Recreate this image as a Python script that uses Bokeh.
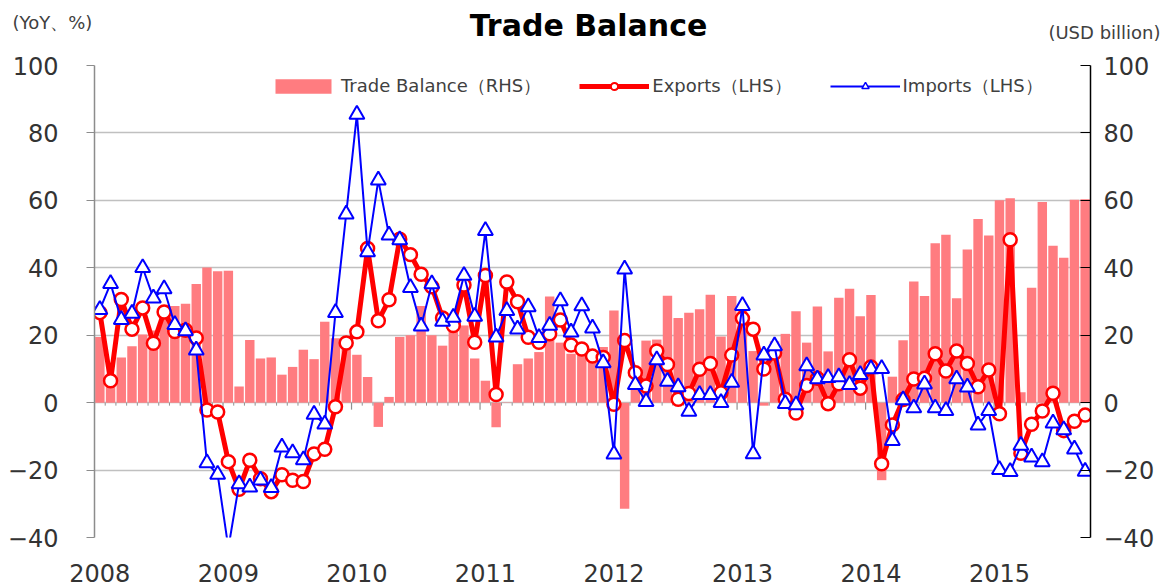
import math
from bokeh.plotting import figure
from bokeh.layouts import column
from bokeh.models import Range1d, LinearAxis, FixedTicker, Legend, LegendItem, ColumnDataSource
from bokeh.core.properties import value
from bokeh.embed import file_html
from bokeh.resources import INLINE

years = ["2008", "2009", "2010", "2011", "2012", "2013", "2014", "2015"]

# Trade balance, USD billion (RHS)
trade_balance = [
    19.5, 8.6, 13.4, 16.7, 20.2, 21.4, 25.3, 28.7, 29.3, 35.2, 40.1, 39.0,
    39.1, 4.8, 18.6, 13.1, 13.4, 8.3, 10.6, 15.7, 12.9, 24.0, 19.1, 18.4,
    14.2, 7.6, -7.2, 1.7, 19.5, 20.0, 28.7, 20.0, 16.9, 24.0, 22.9, 13.1,
    6.5, -7.3, 0.1, 11.4, 13.1, 15.0, 31.5, 17.8, 14.5, 17.0, 14.5, 16.5,
    27.3, -31.5, 5.3, 18.4, 18.7, 31.7, 25.1, 26.7, 27.7, 32.0, 19.6, 31.6,
    29.2, 15.3, -0.9, 18.2, 20.4, 27.1, 17.8, 28.5, 15.2, 31.1, 33.8, 25.6,
    31.9, -23.0, 7.7, 18.5, 35.9, 31.6, 47.3, 49.8, 31.0, 45.4, 54.5, 49.6,
    60.0, 60.6, 3.1, 34.1, 59.5, 46.5, 43.0, 60.2, 60.3,
]

# Exports, YoY % (LHS)
exports = [
    26.7, 6.5, 30.6, 21.8, 28.1, 17.6, 26.9, 21.1, 21.5, 19.2, -2.2, -2.8,
    -17.5, -25.7, -17.1, -22.6, -26.4, -21.4, -23.0, -23.4, -15.2, -13.8, -1.2, 17.7,
    21.0, 45.7, 24.3, 30.5, 48.5, 43.9, 38.1, 34.4, 25.1, 22.9, 34.9, 17.9,
    37.7, 2.4, 35.8, 29.9, 19.4, 17.9, 20.4, 24.5, 17.1, 15.9, 13.8, 13.4,
    -0.5, 18.4, 8.9, 4.9, 15.3, 11.3, 1.0, 2.7, 9.9, 11.6, 2.9, 14.1,
    25.0, 21.8, 10.0, 14.7, 1.0, -3.1, 5.1, 7.2, -0.3, 5.6, 12.7, 4.3,
    10.6, -18.1, -6.6, 0.9, 7.0, 7.2, 14.5, 9.4, 15.3, 11.6, 4.7, 9.7,
    -3.3, 48.3, -15.0, -6.4, -2.5, 2.8, -8.3, -5.5, -3.7,
]

# Imports, YoY % (LHS)
imports = [
    27.6, 35.3, 24.6, 26.5, 40.0, 31.0, 33.7, 23.1, 21.3, 15.6, -17.9, -21.3,
    -43.1, -24.1, -25.1, -23.0, -25.2, -13.2, -14.9, -17.0, -3.5, -6.4, 26.7, 55.9,
    85.5, 44.7, 66.0, 49.7, 48.3, 34.1, 22.7, 35.2, 24.1, 25.3, 37.7, 25.6,
    51.0, 19.4, 27.3, 21.8, 28.4, 19.3, 22.9, 30.2, 20.9, 28.7, 22.1, 11.8,
    -15.3, 39.6, 5.3, 0.3, 12.7, 6.3, 4.7, -2.6, 2.4, 2.4, 0.0, 6.0,
    28.8, -15.2, 14.1, 16.8, -0.3, -0.7, 10.9, 7.0, 7.4, 7.6, 5.3, 8.3,
    10.0, 10.1, -11.3, 0.8, -1.6, 5.5, -1.6, -2.4, 7.0, 4.6, -6.7, -2.4,
    -19.9, -20.5, -12.7, -16.2, -17.6, -6.1, -8.1, -13.8, -20.4,
]

y_ticks = [-40, -20, 0, 20, 40, 60, 80, 100]

n = len(exports)
x = [i + 0.5 for i in range(n)]
src = ColumnDataSource(dict(x=x, tb=trade_balance, ex=exports, im=imports))

YMIN, YMAX = -40, 100
FONT = "DejaVu Sans"
TXT = "#333333"
W = 1164

# ---------- header (title + unit captions) ----------
HH = 53
hdr = figure(width=W, height=HH, output_backend="svg", toolbar_location=None,
             x_range=Range1d(0, W), y_range=Range1d(0, HH),
             x_axis_type=None, y_axis_type=None,
             min_border_left=0, min_border_right=0, min_border_top=0, min_border_bottom=0)
hdr.frame_align = False
hdr.outline_line_color = None
hdr.grid.visible = False
hdr.text(x=[588], y=[HH - 25], text=["Trade Balance"], text_font=value(FONT),
         text_font_size="30px", text_font_style="bold", text_color="black",
         text_align="center", text_baseline="middle")
hdr.text(x=[12], y=[HH - 22], text=["(YoY、%)"], text_font=value(FONT),
         text_font_size="18px", text_color="#404040",
         text_align="left", text_baseline="middle")
hdr.text(x=[1160], y=[HH - 32], text=["(USD billion)"], text_font=value(FONT),
         text_font_size="18px", text_color="#404040",
         text_align="right", text_baseline="middle")

# ---------- main chart ----------
p = figure(width=W, height=587 - HH, output_backend="svg", toolbar_location=None,
           x_range=Range1d(0, n), y_range=Range1d(YMIN, YMAX),
           min_border_left=94, min_border_right=74, min_border_top=12, min_border_bottom=50)
p.frame_align = False
p.extra_y_ranges = {"rhs": Range1d(YMIN, YMAX)}
p.outline_line_color = None

p.xgrid.visible = False
p.ygrid.ticker = FixedTicker(ticks=y_ticks)
p.ygrid.grid_line_color = "#C0C0C0"
p.ygrid.grid_line_width = 1.5

la = p.yaxis[0]
la.ticker = FixedTicker(ticks=y_ticks)
la.axis_line_color = "#8C8C8C"
la.axis_line_width = 1.5
la.major_tick_line_color = "#8C8C8C"
la.major_tick_out = 8
la.major_tick_in = 0
la.minor_tick_line_color = None
la.major_label_text_font_size = "24px"
la.major_label_text_font = FONT
la.major_label_text_color = TXT
la.major_label_standoff = 28

ra = LinearAxis(y_range_name="rhs", ticker=FixedTicker(ticks=y_ticks))
ra.axis_line_color = "black"
ra.axis_line_width = 1.5
ra.major_tick_line_color = "black"
ra.major_tick_in = 10
ra.major_tick_out = 0
ra.minor_tick_line_color = None
ra.major_label_text_font_size = "24px"
ra.major_label_text_font = FONT
ra.major_label_text_color = TXT
ra.major_label_standoff = 13
p.add_layout(ra, "right")

ba = p.xaxis[0]
year_pos = [12 * k + 0.5 for k in range(len(years))]
ba.ticker = FixedTicker(ticks=year_pos)
ba.major_label_overrides = {pos: yr for pos, yr in zip(year_pos, years)}
ba.axis_line_color = None
ba.major_tick_line_color = None
ba.minor_tick_line_color = None
ba.major_label_text_font_size = "24px"
ba.major_label_text_font = FONT
ba.major_label_text_color = TXT
ba.major_label_standoff = 20

bars = p.vbar(x="x", top="tb", bottom=0, width=0.88, source=src, y_range_name="rhs",
              fill_color="#FF7C80", line_color=None)

# small tick marks on the zero line (month / year boundaries)
px_unit = (YMAX - YMIN) / 472.0
bounds = list(range(0, n + 1))
minor_b = [b for b in bounds if b % 12 != 0]
major_b = [b for b in bounds if b % 12 == 0]
p.segment(x0=minor_b, y0=[0] * len(minor_b), x1=minor_b, y1=[-3 * px_unit] * len(minor_b),
          line_color="#909090", line_width=1)
p.segment(x0=major_b, y0=[0] * len(major_b), x1=major_b, y1=[-7 * px_unit] * len(major_b),
          line_color="#909090", line_width=1.2)

ex_line = p.line("x", "ex", source=src, line_color="#FF0000", line_width=5)
p.scatter("x", "ex", source=src, marker="circle", size=13, fill_color="white",
          line_color="#FF0000", line_width=2.5)

im_line = p.line("x", "im", source=src, line_color="#0000FF", line_width=2)
p.scatter("x", "im", source=src, marker="triangle", size=15, fill_color="white",
          line_color="#0000FF", line_width=2)

# legend-only markers (no visible data point)
nan_src = ColumnDataSource(dict(x=[math.nan], y=[math.nan]))
ex_leg = p.scatter("x", "y", source=nan_src, marker="circle", size=10, fill_color="white",
                   line_color="#FF0000", line_width=2)
im_leg = p.scatter("x", "y", source=nan_src, marker="triangle", size=10, fill_color="white",
                   line_color="#0000FF", line_width=1.5)

legend = Legend(items=[
    LegendItem(label="Trade Balance（RHS）", renderers=[bars]),
    LegendItem(label="Exports（LHS）", renderers=[ex_line, ex_leg]),
    LegendItem(label="Imports（LHS）", renderers=[im_line, im_leg]),
], orientation="horizontal", location=(174, 439), glyph_width=70, glyph_height=18,
    label_standoff=3, spacing=38, padding=0, margin=0, border_line_color=None,
    background_fill_alpha=0, label_text_font_size="18px", label_text_font=FONT,
    label_text_color="#404040", label_height=20)
p.add_layout(legend)

page = column(hdr, p, spacing=0)
open("out.html", "w").write(file_html(page, INLINE))
